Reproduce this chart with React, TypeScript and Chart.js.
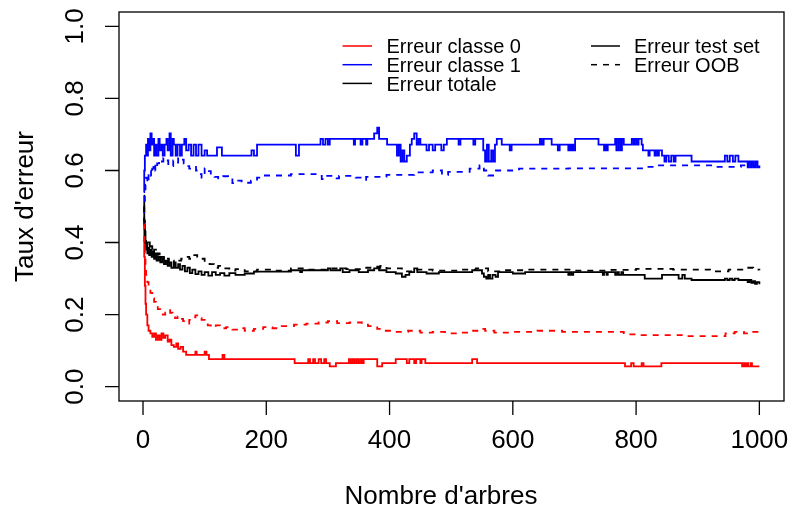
import React, { useEffect, useRef } from "react";
import { Chart, registerables } from "chart.js";

Chart.register(...registerables);

type Pt = [number, number];

const xTicks: number[] = [0, 200, 400, 600, 800, 1000];
const xTickLabels: string[] = ["0", "200", "400", "600", "800", "1000"];
const yTicks: number[] = [0, 0.2, 0.4, 0.6, 0.8, 1.0];
const yTickLabels: string[] = ["0.0", "0.2", "0.4", "0.6", "0.8", "1.0"];
const xTitle = "Nombre d'arbres";
const yTitle = "Taux d'erreur";
const legendLeft: string[] = ["Erreur classe 0", "Erreur classe 1", "Erreur totale"];
const legendLeftColors: string[] = ["#ff0000", "#0000ff", "#000000"];
const legendRight: string[] = ["Erreur test set", "Erreur OOB"];

// test set error, class 0 (red solid)
const testClass0: Pt[] = [[1,0.47],[2,0.36],[3,0.28],[4,0.23],[5,0.2],[7,0.17],[9,0.155],[12,0.148],[15,0.138],[18,0.148],[21,0.13],[24,0.142],[27,0.13],[30,0.148],[33,0.135],[36,0.142],[40,0.125],[43,0.13],[46,0.115],[50,0.11],[54,0.12],[57,0.105],[61,0.11],[65,0.097],[70,0.088],[85,0.097],[87,0.088],[100,0.097],[103,0.088],[107,0.076],[129,0.088],[132,0.076],[246,0.065],[268,0.076],[271,0.065],[276,0.076],[279,0.065],[285,0.076],[289,0.065],[294,0.076],[297,0.065],[303,0.056],[313,0.065],[334,0.076],[337,0.065],[340,0.076],[343,0.065],[346,0.076],[349,0.065],[352,0.076],[355,0.065],[358,0.076],[380,0.056],[388,0.065],[410,0.076],[428,0.065],[432,0.076],[440,0.065],[443,0.076],[450,0.065],[452,0.076],[458,0.065],[534,0.076],[542,0.065],[782,0.056],[792,0.065],[796,0.056],[809,0.065],[812,0.056],[841,0.065],[972,0.056],[975,0.065],[977,0.056],[980,0.065],[982,0.056],[986,0.065],[988,0.056],[1000,0.056]];

// OOB error, class 0 (red dashed)
const oobClass0: Pt[] = [[1,0.45],[2,0.4],[3,0.36],[4,0.33],[5,0.31],[7,0.29],[9,0.27],[12,0.26],[15,0.245],[18,0.235],[21,0.225],[24,0.215],[28,0.21],[32,0.2],[36,0.205],[40,0.212],[44,0.205],[48,0.198],[52,0.19],[56,0.195],[60,0.188],[65,0.182],[70,0.175],[75,0.185],[80,0.192],[85,0.198],[90,0.19],[95,0.185],[100,0.175],[105,0.17],[110,0.165],[118,0.17],[125,0.162],[135,0.165],[145,0.158],[155,0.162],[165,0.155],[180,0.16],[195,0.165],[210,0.162],[225,0.168],[245,0.172],[265,0.175],[285,0.178],[300,0.182],[315,0.176],[335,0.178],[355,0.172],[365,0.168],[380,0.16],[390,0.155],[410,0.152],[430,0.155],[450,0.15],[470,0.152],[490,0.148],[510,0.15],[530,0.155],[545,0.16],[555,0.155],[570,0.15],[600,0.152],[640,0.155],[680,0.152],[720,0.152],[780,0.145],[800,0.143],[840,0.143],[880,0.14],[945,0.148],[960,0.152],[975,0.148],[990,0.152],[1000,0.15]];

// test set error, class 1 (blue solid)
const testClass1: Pt[] = [[1,0.54],[2,0.6],[3,0.641],[5,0.672],[7,0.641],[8,0.688],[10,0.656],[12,0.703],[14,0.672],[16,0.688],[18,0.641],[20,0.672],[22,0.641],[25,0.688],[27,0.656],[30,0.672],[32,0.641],[35,0.672],[38,0.688],[40,0.656],[43,0.703],[45,0.641],[48,0.688],[50,0.672],[53,0.641],[56,0.672],[60,0.641],[63,0.672],[67,0.688],[70,0.656],[74,0.672],[78,0.641],[82,0.672],[86,0.641],[90,0.672],[95,0.641],[100,0.656],[104,0.641],[120,0.664],[128,0.641],[176,0.656],[180,0.641],[185,0.672],[248,0.641],[253,0.672],[288,0.688],[292,0.672],[296,0.688],[300,0.672],[303,0.688],[342,0.672],[344,0.688],[353,0.672],[356,0.688],[362,0.672],[364,0.688],[375,0.703],[380,0.719],[383,0.688],[396,0.672],[412,0.641],[415,0.672],[418,0.625],[421,0.656],[424,0.625],[428,0.641],[433,0.672],[436,0.688],[440,0.703],[444,0.672],[447,0.688],[450,0.672],[460,0.656],[464,0.672],[470,0.656],[474,0.672],[484,0.656],[488,0.672],[493,0.688],[512,0.672],[515,0.688],[536,0.672],[539,0.688],[552,0.656],[555,0.625],[558,0.672],[561,0.625],[565,0.656],[568,0.625],[571,0.672],[574,0.688],[582,0.672],[595,0.656],[598,0.672],[644,0.688],[647,0.672],[650,0.688],[663,0.672],[673,0.656],[676,0.672],[690,0.656],[692,0.672],[694,0.656],[696,0.672],[698,0.656],[701,0.688],[739,0.672],[748,0.656],[750,0.672],[752,0.656],[754,0.672],[766,0.688],[768,0.656],[771,0.688],[774,0.656],[777,0.688],[780,0.672],[793,0.688],[796,0.672],[798,0.688],[801,0.672],[804,0.688],[809,0.672],[811,0.656],[820,0.641],[822,0.656],[830,0.641],[832,0.656],[835,0.641],[837,0.656],[842,0.641],[846,0.625],[849,0.641],[853,0.625],[857,0.641],[861,0.625],[864,0.641],[890,0.625],[944,0.641],[948,0.625],[952,0.641],[957,0.625],[961,0.641],[966,0.625],[981,0.609],[983,0.625],[986,0.609],[988,0.625],[991,0.609],[994,0.625],[997,0.609],[1000,0.614]];

// OOB error, class 1 (blue dashed)
const oobClass1: Pt[] = [[1,0.45],[2,0.5],[3,0.53],[4,0.56],[5,0.58],[7,0.565],[9,0.59],[11,0.6],[13,0.585],[15,0.605],[17,0.62],[20,0.6],[23,0.62],[26,0.63],[29,0.625],[33,0.635],[37,0.628],[41,0.618],[45,0.612],[49,0.628],[53,0.622],[57,0.636],[62,0.63],[66,0.62],[70,0.612],[75,0.605],[80,0.61],[86,0.6],[90,0.59],[95,0.58],[100,0.606],[104,0.598],[110,0.588],[116,0.582],[122,0.578],[130,0.584],[138,0.575],[145,0.565],[150,0.572],[160,0.566],[175,0.572],[185,0.58],[195,0.586],[240,0.59],[280,0.585],[290,0.576],[296,0.585],[310,0.578],[318,0.585],[345,0.58],[355,0.574],[362,0.582],[395,0.588],[440,0.595],[470,0.6],[485,0.588],[495,0.596],[530,0.605],[546,0.614],[553,0.6],[560,0.586],[568,0.6],[610,0.605],[690,0.606],[820,0.61],[830,0.614],[930,0.61],[970,0.614],[1000,0.614]];

// test set error, total (black solid)
const testTotal: Pt[] = [[1,0.53],[2,0.45],[3,0.42],[4,0.4],[5,0.38],[6,0.395],[7,0.37],[8,0.385],[10,0.365],[12,0.38],[14,0.36],[16,0.375],[18,0.355],[20,0.37],[22,0.35],[25,0.36],[28,0.345],[31,0.355],[34,0.34],[37,0.35],[40,0.335],[43,0.345],[46,0.33],[50,0.345],[53,0.33],[57,0.34],[60,0.325],[64,0.335],[68,0.32],[72,0.33],[76,0.315],[80,0.325],[85,0.312],[90,0.32],[95,0.31],[100,0.318],[106,0.308],[112,0.318],[118,0.31],[125,0.315],[132,0.308],[140,0.315],[150,0.31],[165,0.314],[180,0.319],[240,0.323],[255,0.318],[258,0.323],[300,0.328],[304,0.323],[320,0.328],[324,0.318],[335,0.323],[350,0.318],[365,0.323],[375,0.328],[380,0.333],[383,0.323],[395,0.318],[410,0.314],[420,0.305],[426,0.31],[432,0.318],[440,0.328],[445,0.318],[460,0.314],[480,0.318],[534,0.323],[550,0.314],[553,0.305],[557,0.3],[560,0.31],[563,0.3],[567,0.31],[572,0.305],[576,0.318],[600,0.314],[620,0.318],[690,0.31],[692,0.318],[695,0.31],[698,0.318],[746,0.31],[748,0.318],[752,0.31],[754,0.318],[766,0.31],[769,0.318],[772,0.31],[776,0.318],[779,0.31],[814,0.3],[842,0.31],[869,0.3],[875,0.31],[879,0.3],[890,0.296],[944,0.3],[948,0.296],[952,0.3],[956,0.296],[960,0.3],[966,0.296],[981,0.29],[984,0.296],[987,0.288],[990,0.293],[993,0.285],[996,0.29],[1000,0.284]];

// OOB error, total (black dashed)
const oobTotal: Pt[] = [[1,0.5],[2,0.46],[3,0.43],[4,0.41],[5,0.4],[7,0.39],[9,0.4],[11,0.38],[13,0.39],[15,0.37],[18,0.38],[21,0.365],[24,0.37],[27,0.355],[30,0.36],[34,0.35],[38,0.355],[42,0.345],[46,0.35],[50,0.34],[56,0.35],[62,0.355],[68,0.36],[75,0.355],[80,0.365],[88,0.36],[95,0.355],[100,0.345],[108,0.34],[115,0.33],[122,0.335],[130,0.328],[140,0.322],[150,0.326],[165,0.32],[185,0.325],[210,0.322],[240,0.328],[270,0.325],[300,0.328],[330,0.326],[360,0.33],[385,0.335],[395,0.328],[420,0.32],[440,0.325],[470,0.322],[510,0.325],[540,0.328],[560,0.32],[580,0.323],[620,0.325],[700,0.322],[760,0.324],[800,0.327],[860,0.325],[920,0.32],[950,0.325],[975,0.33],[990,0.325],[1000,0.323]];

const FONT = "'Liberation Sans', Arial, Helvetica, sans-serif";

const rAxesPlugin = {
  id: "rAxes",
  afterDraw(chart: any) {
    const ctx: CanvasRenderingContext2D = chart.ctx;
    const a = chart.chartArea;
    const xs = chart.scales.x;
    const ys = chart.scales.y;
    ctx.save();
    ctx.strokeStyle = "#000";
    ctx.fillStyle = "#000";
    ctx.lineWidth = 1.3;
    ctx.strokeRect(a.left, a.top, a.right - a.left, a.bottom - a.top);
    ctx.beginPath();
    xTicks.forEach((v) => {
      const px = xs.getPixelForValue(v);
      ctx.moveTo(px, a.bottom);
      ctx.lineTo(px, a.bottom + 14);
    });
    yTicks.forEach((v) => {
      const py = ys.getPixelForValue(v);
      ctx.moveTo(a.left, py);
      ctx.lineTo(a.left - 14, py);
    });
    ctx.stroke();
    ctx.font = `26px ${FONT}`;
    ctx.textAlign = "center";
    ctx.textBaseline = "alphabetic";
    xTicks.forEach((v, i) => {
      ctx.fillText(xTickLabels[i], xs.getPixelForValue(v), 448);
    });
    yTicks.forEach((v, i) => {
      const py = ys.getPixelForValue(v);
      ctx.save();
      ctx.translate(83, py);
      ctx.rotate(-Math.PI / 2);
      ctx.fillText(yTickLabels[i], 0, 0);
      ctx.restore();
    });
    ctx.fillText(xTitle, 441, 504);
    ctx.save();
    ctx.translate(33, (a.top + a.bottom) / 2);
    ctx.rotate(-Math.PI / 2);
    ctx.fillText(yTitle, 0, 0);
    ctx.restore();
    ctx.font = `20px ${FONT}`;
    ctx.textAlign = "left";
    const rowY = [46, 64.7, 83.4];
    ctx.lineWidth = 1.5;
    legendLeft.forEach((t, i) => {
      ctx.strokeStyle = legendLeftColors[i];
      ctx.setLineDash([]);
      ctx.beginPath();
      ctx.moveTo(342.5, rowY[i]);
      ctx.lineTo(372, rowY[i]);
      ctx.stroke();
      ctx.fillStyle = "#000";
      ctx.fillText(t, 386.5, rowY[i] + 7.3);
    });
    legendRight.forEach((t, i) => {
      ctx.strokeStyle = "#000";
      ctx.setLineDash(i === 1 ? [6, 6] : []);
      ctx.beginPath();
      ctx.moveTo(591, rowY[i]);
      ctx.lineTo(620, rowY[i]);
      ctx.stroke();
      ctx.fillText(t, 634, rowY[i] + 7.3);
    });
    ctx.restore();
  },
};

function toXY(d: Pt[]) {
  return d.map(([x, y]) => ({ x, y }));
}

export default function App() {
  const ref = useRef<HTMLCanvasElement | null>(null);
  useEffect(() => {
    if (!ref.current) return;
    const mk = (label: string, d: Pt[], color: string, dashed: boolean) => ({
      label,
      data: toXY(d),
      borderColor: color,
      backgroundColor: color,
      borderWidth: 1.8,
      borderDash: dashed ? [6, 6] : [],
      pointRadius: 0,
      stepped: "before" as const,
      fill: false,
      tension: 0,
    });
    const chart = new Chart(ref.current, {
      type: "line",
      data: {
        datasets: [
          mk("Erreur OOB totale", oobTotal, "#000000", true),
          mk("Erreur OOB classe 0", oobClass0, "#ff0000", true),
          mk("Erreur OOB classe 1", oobClass1, "#0000ff", true),
          mk("Erreur test totale", testTotal, "#000000", false),
          mk("Erreur test classe 0", testClass0, "#ff0000", false),
          mk("Erreur test classe 1", testClass1, "#0000ff", false),
        ],
      },
      options: {
        responsive: false,
        animation: false,
        devicePixelRatio: 1,
        layout: { padding: { left: 119, right: 13, top: 12, bottom: 109 } },
        plugins: { legend: { display: false }, tooltip: { enabled: false }, title: { display: false } },
        events: [],
        scales: {
          x: { type: "linear", min: -38.96, max: 1039.96, display: false },
          y: { type: "linear", min: -0.04, max: 1.04, display: false },
        },
      },
      plugins: [rAxesPlugin],
    });
    return () => chart.destroy();
  }, []);
  return (
    <div style={{ position: "fixed", left: 0, top: 0, width: 797, height: 510, background: "#fff" }}>
      <canvas ref={ref} width={797} height={510} style={{ display: "block" }} />
    </div>
  );
}
